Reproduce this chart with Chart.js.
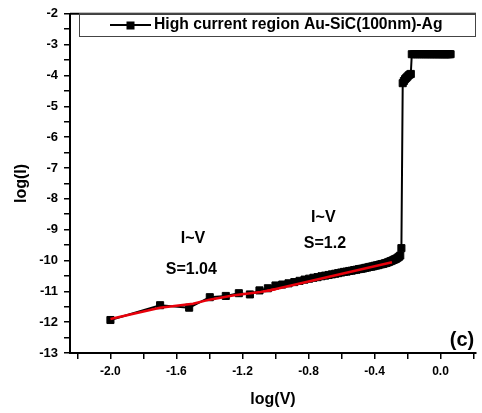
<!DOCTYPE html>
<html>
<head>
<meta charset="utf-8">
<script src="https://cdn.jsdelivr.net/npm/chart.js@4"></script>
<style>
  html, body { margin: 0; padding: 0; background: #fff; }
  canvas { display: block; }
</style>
</head>
<body>
<canvas id="myChart" width="482" height="413"></canvas>
<script>
// measured curve, log(V) vs log(I)
const logV = [
  -2.0, -1.699, -1.523, -1.398, -1.301, -1.222, -1.155, -1.097, -1.046, -1.0,
  -0.959, -0.921, -0.886, -0.854, -0.824, -0.796, -0.770, -0.745, -0.721, -0.699,
  -0.678, -0.658, -0.638, -0.620, -0.602, -0.585, -0.569, -0.553, -0.538, -0.523,
  -0.509, -0.495, -0.481, -0.469, -0.456, -0.444, -0.432, -0.420, -0.409, -0.398,
  -0.387, -0.377, -0.367, -0.357, -0.347, -0.337, -0.328, -0.319, -0.310, -0.301,
  -0.292, -0.284, -0.276, -0.268, -0.260, -0.252, -0.244, -0.237,
  -0.229, -0.222, -0.215, -0.208, -0.201, -0.194, -0.187, -0.180,
  -0.174, -0.161, -0.149, -0.137, -0.125, -0.114, -0.102, -0.092, -0.081, -0.071,
  -0.060, -0.051, -0.041, -0.032, -0.022, -0.013, -0.004, 0.004, 0.013, 0.021,
  0.029, 0.037, 0.045, 0.053, 0.061
];
const logI = [
  -11.93, -11.45, -11.53, -11.19, -11.15, -11.06, -11.10, -10.97, -10.90, -10.81,
  -10.78, -10.74, -10.70, -10.66, -10.62, -10.59, -10.56, -10.54, -10.51, -10.49,
  -10.47, -10.45, -10.43, -10.41, -10.39, -10.37, -10.36, -10.34, -10.33, -10.31,
  -10.30, -10.28, -10.27, -10.26, -10.24, -10.23, -10.21, -10.20, -10.19, -10.17,
  -10.16, -10.15, -10.13, -10.12, -10.11, -10.09, -10.08, -10.06, -10.04, -10.02,
  -10.00, -9.98, -9.96, -9.94, -9.91, -9.88, -9.84, -9.60,
  -4.25, -4.18, -4.12, -4.08, -4.04, -4.00, -3.97, -3.95,
  -3.31, -3.31, -3.31, -3.31, -3.31, -3.31, -3.31, -3.31, -3.31, -3.31,
  -3.31, -3.31, -3.31, -3.31, -3.31, -3.31, -3.31, -3.31, -3.31, -3.31,
  -3.31, -3.31, -3.31, -3.31, -3.31
];

// fitted lines (red)
const fit1V = [-2.0, -1.7, -1.6, -1.5, -1.4, -1.25, -1.09, -1.0];
const fit1I = [-11.90, -11.53, -11.47, -11.40, -11.27, -11.13, -11.02, -10.93];
const fit2V = [-1.05, -0.294];
const fit2I = [-10.99, -10.06];

const xTickVals = [-2.2, -2.0, -1.8, -1.6, -1.4, -1.2, -1.0, -0.8, -0.6, -0.4, -0.2, 0.0, 0.2];
const xTickLabels = ['-2.0', '-1.6', '-1.2', '-0.8', '-0.4', '0.0'];
const yTickVals = [-13, -12.5, -12, -11.5, -11, -10.5, -10, -9.5, -9, -8.5, -8, -7.5, -7,
  -6.5, -6, -5.5, -5, -4.5, -4, -3.5, -3, -2.5, -2];
const yTickLabels = ['-13', '-12', '-11', '-10', '-9', '-8', '-7', '-6', '-5', '-4', '-3', '-2'];

const legendText = 'High current region Au-SiC(100nm)-Ag';
const notes = [
  { text: 'I~V', x: -1.50, y: -9.30 },
  { text: 'S=1.04', x: -1.51, y: -10.30 },
  { text: 'I~V', x: -0.71, y: -8.62 },
  { text: 'S=1.2', x: -0.70, y: -9.46 }
];

const pts = (xs, ys) => xs.map((x, i) => ({ x: x, y: ys[i] }));
const FONT = '"Liberation Sans", Arial, sans-serif';

const extras = {
  id: 'extras',
  afterDraw(chart) {
    const ctx = chart.ctx;
    const a = chart.chartArea;
    const sx = chart.scales.x, sy = chart.scales.y;
    ctx.save();
    // top frame line (right side runs off the picture)
    ctx.strokeStyle = '#000';
    ctx.lineWidth = 2;
    ctx.beginPath();
    ctx.moveTo(a.left, a.top);
    ctx.lineTo(a.right, a.top);
    ctx.stroke();

    // legend box
    ctx.lineWidth = 1;
    ctx.strokeStyle = '#444';
    ctx.strokeRect(79.5, 13.5, 396, 23);
    ctx.strokeStyle = '#000';
    ctx.lineWidth = 2;
    ctx.beginPath();
    ctx.moveTo(110, 25);
    ctx.lineTo(151, 25);
    ctx.stroke();
    ctx.fillStyle = '#000';
    ctx.fillRect(126.5, 21.5, 8, 8);
    ctx.font = 'bold 15.7px ' + FONT;
    ctx.textAlign = 'left';
    ctx.textBaseline = 'middle';
    ctx.fillText(legendText, 154, 25);

    // notes
    ctx.font = 'bold 16px ' + FONT;
    ctx.textAlign = 'center';
    notes.forEach(n => {
      ctx.fillText(n.text, sx.getPixelForValue(n.x), sy.getPixelForValue(n.y));
    });
    ctx.font = 'bold 20px ' + FONT;
    ctx.fillText('(c)', a.right - 14, a.bottom - 13);
    ctx.restore();
  }
};

const ctx = document.getElementById('myChart');
new Chart(ctx, {
  type: 'scatter',
  data: {
    datasets: [
      {
        label: 'fit1',
        data: pts(fit1V, fit1I),
        showLine: true,
        borderColor: '#e8000b',
        borderWidth: 2.5,
        pointRadius: 0
      },
      {
        label: 'fit2',
        data: pts(fit2V, fit2I),
        showLine: true,
        borderColor: '#e8000b',
        borderWidth: 2.5,
        pointRadius: 0
      },
      {
        label: legendText,
        data: pts(logV, logI),
        showLine: true,
        borderColor: '#000',
        backgroundColor: '#000',
        borderWidth: 2,
        pointStyle: 'rect',
        pointRadius: 5,
        pointBorderWidth: 1
      }
    ]
  },
  options: {
    responsive: false,
    animation: false,
    devicePixelRatio: 1,
    layout: { padding: { left: 0, right: 0, top: 11, bottom: 0 } },
    plugins: {
      legend: { display: false },
      tooltip: { enabled: false }
    },
    scales: {
      x: {
        type: 'linear',
        min: -2.245,
        max: 0.215,
        afterFit: s => { s.height = 60; },
        afterBuildTicks: s => { s.ticks = xTickVals.map(v => ({ value: v })); },
        grid: { drawOnChartArea: false, color: '#000', lineWidth: 1.5, tickLength: 6 },
        border: { color: '#000', width: 2 },
        ticks: {
          color: '#000',
          padding: 5,
          maxRotation: 0,
          autoSkip: false,
          font: { family: FONT, size: 12, weight: 'bold' },
          callback: v => {
            const t = v.toFixed(1);
            return xTickLabels.includes(t) ? t : '';
          }
        },
        title: {
          display: true,
          text: 'log(V)',
          color: '#000',
          padding: { bottom: 4 },
          font: { family: FONT, size: 16, weight: 'bold' }
        }
      },
      y: {
        type: 'linear',
        min: -13,
        max: -2,
        afterFit: s => { s.width = 70; },
        afterBuildTicks: s => { s.ticks = yTickVals.map(v => ({ value: v })); },
        grid: { drawOnChartArea: false, color: '#000', lineWidth: 1.5, tickLength: 6 },
        border: { color: '#000', width: 2 },
        ticks: {
          color: '#000',
          padding: 6,
          autoSkip: false,
          font: { family: FONT, size: 13, weight: 'bold' },
          callback: v => {
            const t = String(v);
            return yTickLabels.includes(t) ? t : '';
          }
        },
        title: {
          display: true,
          text: 'log(I)',
          color: '#000',
          padding: { top: 12 },
          font: { family: FONT, size: 16, weight: 'bold' }
        }
      }
    }
  },
  plugins: [extras]
});
</script>
</body>
</html>
